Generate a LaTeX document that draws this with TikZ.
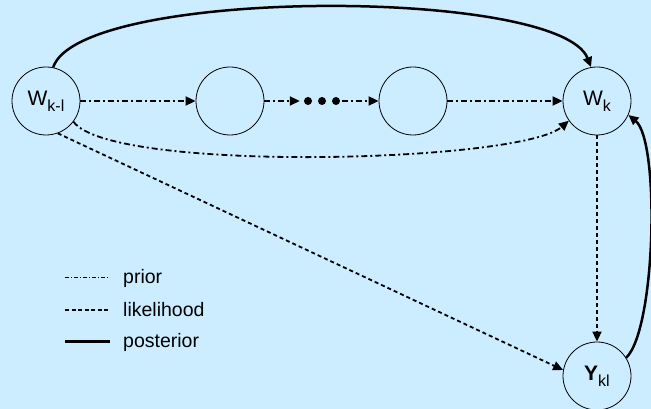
\documentclass[tikz,border=0pt]{standalone}
\usepackage{fontspec}
\setmainfont{Liberation Sans}
\usetikzlibrary{arrows.meta}
\definecolor{bgblue}{RGB}{204,236,255}
\tikzset{
  state/.style={circle, draw, line width=0.8pt, minimum size=68pt, inner sep=0pt, font=\fontsize{21}{23}\selectfont},
  dotnode/.style={circle, fill=black, minimum size=8pt, inner sep=0pt},
  priorline/.style={line width=1.8pt, dash pattern=on 6pt off 3pt on 2pt off 3pt},
  likeline/.style={line width=1.8pt, dash pattern=on 4pt off 3pt},
  postline/.style={line width=2.5pt},
  tip/.style={-{Triangle[length=10pt,width=9pt]}},
  legtext/.style={anchor=west, font=\fontsize{19.5}{21}\selectfont, inner sep=0pt}
}
\newcommand{\subsc}[1]{\raisebox{-6pt}{\fontsize{16}{17}\selectfont #1}}
\begin{document}
\begin{tikzpicture}[x=1pt,y=1pt]
\fill[bgblue] (0,0) rectangle (651,409);
\useasboundingbox (0,0) rectangle (651,409);
\node[state] (A) at (46,308) {W\subsc{k-l}};
\node[state] (B) at (230,308) {};
\node[state] (C) at (413,308) {};
\node[state] (D) at (597,308) {W\subsc{k}};
\node[state] (Y) at (597,33) {\textbf{Y}\subsc{kl}};
\node[dotnode] (p1) at (308,308) {};
\node[dotnode] (p2) at (322,308) {};
\node[dotnode] (p3) at (336,308) {};
% prior chain
\draw[priorline,tip] (A) -- (B);
\draw[priorline,tip,shorten >=4pt] (B) -- (p1);
\draw[priorline,tip] (p3) ++(6,0) coordinate (p3r) -- (C);
\draw[priorline,tip] (C) -- (D);
% prior curve below
\draw[priorline,tip] (A.-37) .. controls (110,236) and (520,246) .. (D.215);
% posterior top curve
\draw[postline,tip] (A.78) .. controls (80,422) and (560,422) .. (D.100);
% likelihood
\draw[likeline,tip] (A.-70) -- (Y.170);
\draw[likeline,tip] (D) -- (Y);
% posterior right curve
\draw[postline,tip] (Y.32) .. controls (656,80) and (660,268) .. (D.-24);
% legend
\coordinate (l1a) at (65,131); \coordinate (l1b) at (110,131);
\coordinate (l2a) at (65,99); \coordinate (l2b) at (110,99);
\coordinate (l3a) at (65,67); \coordinate (l3b) at (110,67);
\draw[line width=1pt, dash pattern=on 4pt off 2pt on 1pt off 2pt] (l1a) -- (l1b);
\draw[line width=1.5pt, dash pattern=on 4pt off 2.5pt] (l2a) -- (l2b);
\draw[line width=3pt] (l3a) -- (l3b);
\node[legtext] (t1) at (123,131) {prior};
\node[legtext] (t2) at (123,99) {likelihood};
\node[legtext] (t3) at (123,67) {posterior};
\end{tikzpicture}
\end{document}
